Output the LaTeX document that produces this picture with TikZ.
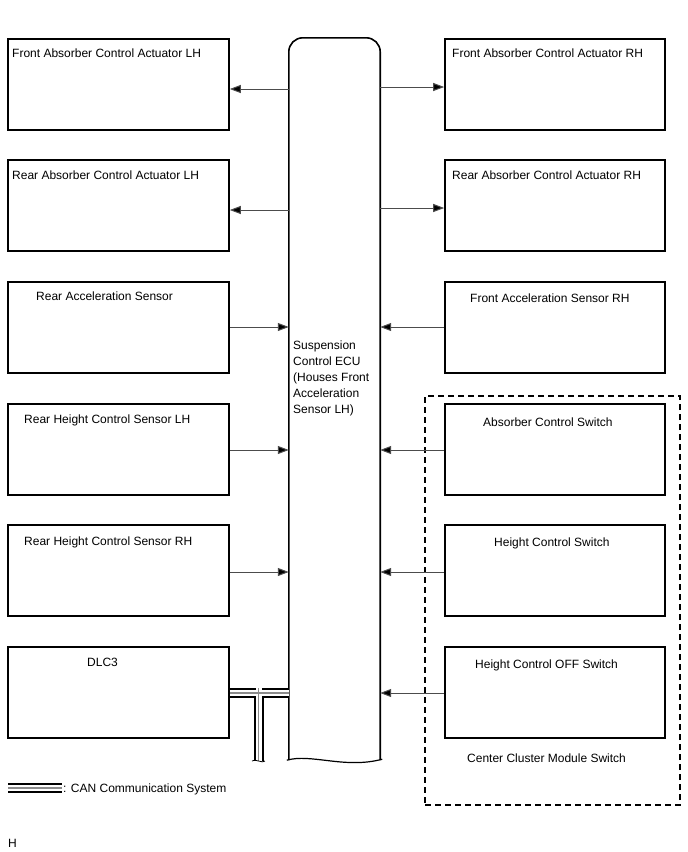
\documentclass[tikz,border=0pt]{standalone}
\usepackage{fontspec}
\setmainfont{Liberation Sans}
\usetikzlibrary{arrows.meta,calc}
\begin{document}
\begin{tikzpicture}[x=1pt,y=-1pt,
  box/.style={draw=black,line width=1.6pt,minimum width=221pt,minimum height=91pt,inner sep=0pt},
  lbl/.style={anchor=base west,inner sep=0pt,font=\fontsize{12}{14}\selectfont},
  sig/.style={draw=black!70,line width=1pt,-{Triangle[length=11pt,width=8pt,fill=black]}},
  canout/.style={line width=10pt,draw=black},
  canmid/.style={line width=6pt,draw=white},
  canin/.style={line width=1.1pt,draw=black!45}]
\useasboundingbox (0,0) rectangle (688,852);
% left boxes
\node[box] (l1) at (118.5,84.5) {};
\node[box] (l2) at (118.5,205.5) {};
\node[box] (l3) at (118.5,327.5) {};
\node[box] (l4) at (118.5,449.5) {};
\node[box] (l5) at (118.5,570.5) {};
\node[box] (l6) at (118.5,692.5) {};
% right boxes
\node[box,minimum width=220pt] (r1) at (555,84.5) {};
\node[box,minimum width=220pt] (r2) at (555,205.5) {};
\node[box,minimum width=220pt] (r3) at (555,327.5) {};
\node[box,minimum width=220pt] (r4) at (555,449.5) {};
\node[box,minimum width=220pt] (r5) at (555,570.5) {};
\node[box,minimum width=220pt] (r6) at (555,692.5) {};
% labels
\node[lbl] (t1) at (12,57) {Front Absorber Control Actuator LH};
\node[lbl] (t2) at (12,179) {Rear Absorber Control Actuator LH};
\node[lbl] (t3) at (36,300) {Rear Acceleration Sensor};
\node[lbl] (t4) at (24,423) {Rear Height Control Sensor LH};
\node[lbl] (t5) at (24,545) {Rear Height Control Sensor RH};
\node[lbl] (t6) at (87,666) {DLC3};
\node[lbl] (u1) at (452,57) {Front Absorber Control Actuator RH};
\node[lbl] (u2) at (452,179) {Rear Absorber Control Actuator RH};
\node[lbl] (u3) at (470,302) {Front Acceleration Sensor RH};
\node[lbl] (u4) at (483,426) {Absorber Control Switch};
\node[lbl] (u5) at (494,546) {Height Control Switch};
\node[lbl] (u6) at (475,668) {Height Control OFF Switch};
% dashed group
\node[draw=black,line width=1.3pt,dash pattern=on 6pt off 4pt,minimum width=255pt,minimum height=409pt,inner sep=0pt] (grp) at (552.5,600.5) {};
\node[lbl] (gl) at (467,762) {Center Cluster Module Switch};
% ECU
\node[minimum width=91pt,minimum height=722pt,inner sep=0pt] (ecu) at (334.5,399) {};
\draw[line width=1.6pt,rounded corners=14pt] (ecu.south west) -- (ecu.north west) -- (ecu.north east) -- (ecu.south east);
\draw[line width=1.2pt] ($(ecu.south west)+(-2,0)$) .. controls ($(ecu.south west)+(22,-7)$) and ($(ecu.south east)+(-35,9)$) .. ($(ecu.south east)+(2,-1)$);
\node[lbl,align=left,anchor=north west,font=\fontsize{12}{16}\selectfont] (et) at (293,341) {Suspension\\Control ECU\\(Houses Front\\Acceleration\\Sensor LH)};
% arrows
\draw[sig] (ecu.west |- 0,89) -- (l1.east |- 0,89);
\draw[sig] (ecu.east |- 0,87) -- (r1.west |- 0,87);
\draw[sig] (ecu.west |- 0,210) -- (l2.east |- 0,210);
\draw[sig] (ecu.east |- 0,208) -- (r2.west |- 0,208);
\draw[sig] (l3.east |- 0,327) -- (ecu.west |- 0,327);
\draw[sig] (r3.west |- 0,327) -- (ecu.east |- 0,327);
\draw[sig] (l4.east |- 0,450) -- (ecu.west |- 0,450);
\draw[sig] (r4.west |- 0,450) -- (ecu.east |- 0,450);
\draw[sig] (l5.east |- 0,572) -- (ecu.west |- 0,572);
\draw[sig] (r5.west |- 0,572) -- (ecu.east |- 0,572);
\draw[sig] (r6.west |- 0,693) -- (ecu.east |- 0,693);
% CAN bus
\coordinate (cj) at (258.5,693);
\coordinate (cb) at (258.5,761);
\foreach \s in {canout,canmid,canin}{
  \draw[\s] (l6.east |- cj) -- (ecu.west |- cj);
  \draw[\s] ($(cj)+(0,-5)$) -- (cb);
}
\draw[line width=0.8pt] (252,761) .. controls (254,758) and (263,764) .. (265,761);
% legend
\coordinate (lg1) at (8,788);
\coordinate (lg2) at (62,788);
\draw[canout] (lg1) -- (lg2);
\draw[canmid] (lg1) -- (lg2);
\draw[canin] (lg1) -- (lg2);
\node[lbl] (lgt) at (63,792) {: CAN Communication System};
\node[lbl] (h) at (8,847) {H};
\end{tikzpicture}
\end{document}
